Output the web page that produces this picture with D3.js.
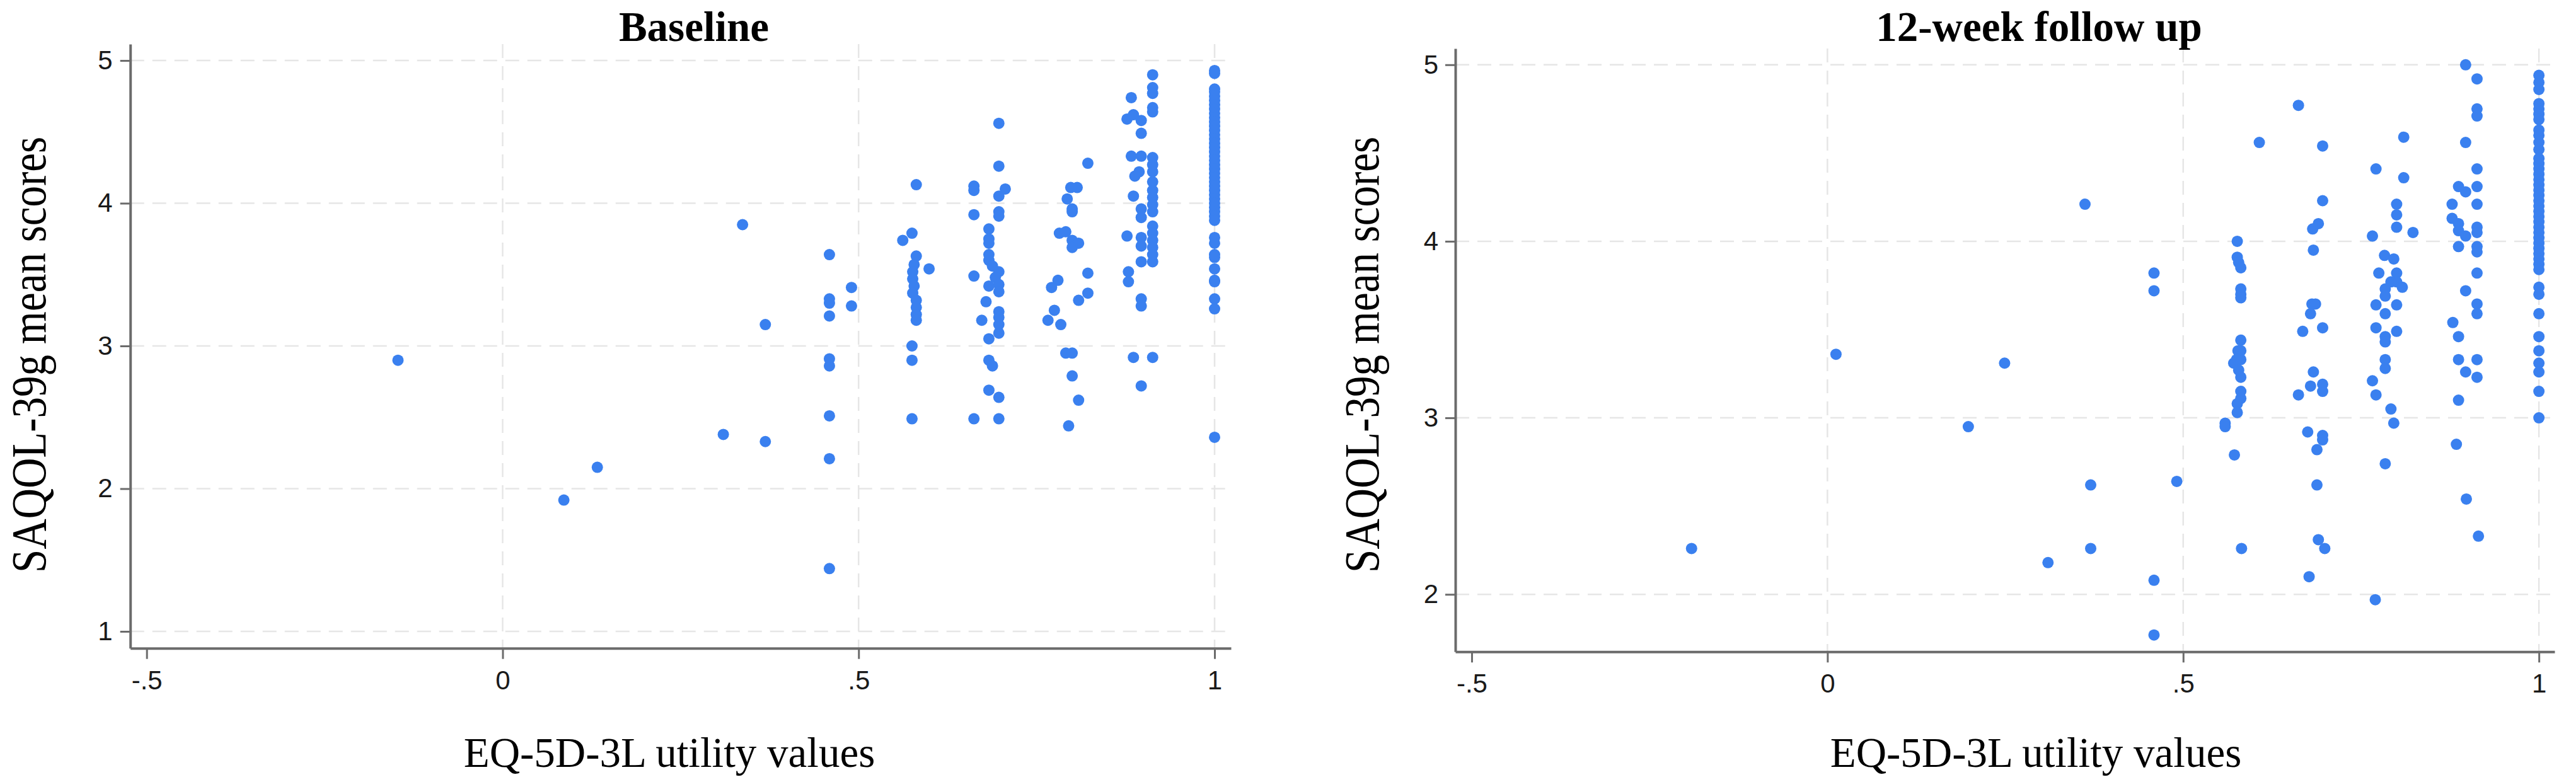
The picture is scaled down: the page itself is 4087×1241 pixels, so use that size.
<!DOCTYPE html>
<html>
<head>
<meta charset="utf-8">
<script src="https://cdn.jsdelivr.net/npm/d3@7"></script>
<style>
  html, body { margin: 0; padding: 0; background: #ffffff; }
  svg { display: block; }
</style>
</head>
<body>
<svg id="chart" width="4087" height="1241"></svg>
<script>
// ---------------- DATA ----------------
const panelTitles = ["Baseline", "12-week follow up"];
const xAxisTitle = "EQ-5D-3L utility values";
const yAxisTitle = "SAQOL-39g mean scores";

const xTickValues = [-0.5, 0, 0.5, 1];
const xTickLabels = ["-.5", "0", ".5", "1"];
const yTicksBaseline = [1, 2, 3, 4, 5];
const yTicksFollowup = [2, 3, 4, 5];

// [EQ-5D-3L utility, SAQOL-39g mean score]
const baselinePoints = [
  [-0.147, 2.90], [0.086, 1.92], [0.133, 2.15], [0.310, 2.38], [0.337, 3.85],
  [0.369, 3.15], [0.369, 2.33],
  [0.459, 3.64], [0.459, 3.33], [0.459, 3.30], [0.459, 3.21], [0.459, 2.91],
  [0.459, 2.86], [0.459, 2.51], [0.459, 2.21], [0.459, 1.44],
  [0.490, 3.41], [0.490, 3.28],
  [0.562, 3.74], [0.575, 3.79], [0.581, 4.13], [0.581, 3.63], [0.578, 3.57],
  [0.576, 3.52], [0.576, 3.47], [0.578, 3.42], [0.576, 3.37], [0.581, 3.32],
  [0.581, 3.27], [0.581, 3.22], [0.581, 3.18], [0.599, 3.54], [0.575, 3.00],
  [0.575, 2.90], [0.575, 2.49],
  [0.662, 4.12], [0.662, 4.09], [0.662, 3.92], [0.662, 3.49], [0.662, 2.49],
  [0.697, 4.56], [0.697, 4.26], [0.697, 4.05], [0.697, 3.94], [0.697, 3.91],
  [0.706, 4.10], [0.683, 3.82], [0.683, 3.75], [0.683, 3.72], [0.683, 3.64],
  [0.683, 3.60], [0.688, 3.56], [0.697, 3.52], [0.692, 3.48], [0.697, 3.43],
  [0.697, 3.38], [0.683, 3.42], [0.679, 3.31], [0.673, 3.18], [0.697, 3.24],
  [0.697, 3.20], [0.697, 3.15], [0.697, 3.09], [0.683, 3.05], [0.683, 2.90],
  [0.688, 2.86], [0.683, 2.69], [0.697, 2.64], [0.697, 2.49],
  [0.822, 4.28], [0.807, 4.11], [0.798, 4.11], [0.793, 4.03], [0.800, 3.96],
  [0.800, 3.94], [0.782, 3.79], [0.791, 3.80], [0.800, 3.74], [0.809, 3.72],
  [0.800, 3.69], [0.822, 3.51], [0.780, 3.46], [0.771, 3.41], [0.822, 3.37],
  [0.809, 3.32], [0.775, 3.25], [0.766, 3.18], [0.784, 3.15], [0.791, 2.95],
  [0.800, 2.95], [0.800, 2.79], [0.809, 2.62], [0.795, 2.44],
  [0.883, 4.74], [0.913, 4.90], [0.913, 4.81], [0.913, 4.77], [0.913, 4.67],
  [0.913, 4.64], [0.877, 4.59], [0.886, 4.62], [0.897, 4.58], [0.897, 4.49],
  [0.883, 4.33], [0.897, 4.33], [0.913, 4.32], [0.913, 4.27], [0.913, 4.22],
  [0.888, 4.19], [0.894, 4.22], [0.913, 4.15], [0.913, 4.09], [0.913, 4.04],
  [0.913, 3.99], [0.913, 3.94], [0.886, 4.05], [0.897, 3.96], [0.897, 3.90],
  [0.913, 3.84], [0.913, 3.79], [0.913, 3.74], [0.913, 3.69], [0.913, 3.64],
  [0.913, 3.59], [0.877, 3.77], [0.897, 3.76], [0.897, 3.70], [0.897, 3.59],
  [0.879, 3.52], [0.879, 3.45], [0.897, 3.33], [0.897, 3.28], [0.886, 2.92],
  [0.913, 2.92], [0.897, 2.72],
  [1, 4.93], [1, 4.91], [1, 4.80], [1, 4.78], [1, 4.75], [1, 4.72], [1, 4.69],
  [1, 4.66], [1, 4.63], [1, 4.60], [1, 4.57], [1, 4.54], [1, 4.51], [1, 4.48],
  [1, 4.45], [1, 4.42], [1, 4.39], [1, 4.36], [1, 4.33], [1, 4.30], [1, 4.27],
  [1, 4.24], [1, 4.21], [1, 4.18], [1, 4.15], [1, 4.12], [1, 4.09], [1, 4.06],
  [1, 4.03], [1, 4.00], [1, 3.97], [1, 3.94], [1, 3.91], [1, 3.88], [1, 3.76],
  [1, 3.72], [1, 3.64], [1, 3.62], [1, 3.54], [1, 3.46], [1, 3.45], [1, 3.33],
  [1, 3.26], [1, 2.36]
];

const followupPoints = [
  [-0.191, 2.26], [0.012, 3.36], [0.198, 2.95], [0.249, 3.31], [0.310, 2.18],
  [0.362, 4.21], [0.370, 2.62], [0.370, 2.26],
  [0.459, 3.82], [0.459, 3.72], [0.459, 2.08], [0.459, 1.77], [0.491, 2.64],
  [0.576, 4.00], [0.576, 3.91], [0.578, 3.88], [0.581, 3.85], [0.581, 3.73],
  [0.581, 3.70], [0.581, 3.68], [0.581, 3.44], [0.577, 3.38], [0.581, 3.38],
  [0.581, 3.33], [0.575, 3.33], [0.571, 3.31], [0.578, 3.27], [0.581, 3.23],
  [0.581, 3.15], [0.581, 3.11], [0.576, 3.08], [0.576, 3.03], [0.559, 2.97],
  [0.559, 2.95], [0.572, 2.79], [0.582, 2.26], [0.607, 4.56],
  [0.662, 4.77], [0.696, 4.54], [0.696, 4.23], [0.682, 4.07], [0.690, 4.10],
  [0.683, 3.95], [0.681, 3.645], [0.686, 3.645], [0.679, 3.59], [0.696, 3.51],
  [0.668, 3.49], [0.683, 3.26], [0.679, 3.18], [0.696, 3.19], [0.696, 3.15],
  [0.662, 3.13], [0.675, 2.92], [0.696, 2.90], [0.696, 2.875], [0.688, 2.82],
  [0.688, 2.62], [0.677, 2.10], [0.690, 2.31], [0.699, 2.26],
  [0.771, 4.41], [0.810, 4.59], [0.810, 4.36], [0.800, 4.21], [0.800, 4.15],
  [0.800, 4.08], [0.823, 4.05], [0.766, 4.03], [0.783, 3.92], [0.796, 3.90],
  [0.775, 3.82], [0.800, 3.82], [0.800, 3.77], [0.792, 3.77], [0.808, 3.74],
  [0.784, 3.73], [0.784, 3.69], [0.771, 3.64], [0.800, 3.64], [0.784, 3.59],
  [0.771, 3.51], [0.800, 3.49], [0.784, 3.46], [0.784, 3.43], [0.784, 3.33],
  [0.784, 3.28], [0.766, 3.21], [0.771, 3.13], [0.792, 3.05], [0.796, 2.97],
  [0.784, 2.74], [0.770, 1.97],
  [0.897, 5.00], [0.913, 4.92], [0.913, 4.75], [0.913, 4.71], [0.897, 4.56],
  [0.913, 4.41], [0.887, 4.31], [0.897, 4.28], [0.913, 4.31], [0.878, 4.21],
  [0.913, 4.21], [0.878, 4.13], [0.887, 4.10], [0.913, 4.08], [0.887, 4.06],
  [0.913, 4.05], [0.897, 4.03], [0.887, 3.97], [0.913, 3.97], [0.913, 3.94],
  [0.913, 3.82], [0.897, 3.72], [0.913, 3.645], [0.913, 3.59], [0.879, 3.54],
  [0.887, 3.46], [0.887, 3.33], [0.913, 3.33], [0.897, 3.26], [0.913, 3.23],
  [0.887, 3.10], [0.884, 2.85], [0.898, 2.54], [0.915, 2.33],
  [1, 4.94], [1, 4.90], [1, 4.86], [1, 4.78], [1, 4.75], [1, 4.72], [1, 4.69],
  [1, 4.63], [1, 4.60], [1, 4.56], [1, 4.52], [1, 4.47], [1, 4.44], [1, 4.41],
  [1, 4.38], [1, 4.35], [1, 4.32], [1, 4.29], [1, 4.26], [1, 4.23], [1, 4.20],
  [1, 4.17], [1, 4.14], [1, 4.11], [1, 4.08], [1, 4.05], [1, 4.02], [1, 3.99],
  [1, 3.96], [1, 3.93], [1, 3.90], [1, 3.87], [1, 3.84], [1, 3.74], [1, 3.70],
  [1, 3.59], [1, 3.46], [1, 3.38], [1, 3.31], [1, 3.26], [1, 3.15], [1, 3.00]
];

// ---------------- LAYOUT ----------------
const panels = [
  { title: panelTitles[0], points: baselinePoints, yTicks: yTicksBaseline,
    xDomain: [-0.523, 1.023], xRange: [206.7, 1953],
    yDomain: [0.882, 5.115], yRange: [1028.7, 70],
    titleX: 1101, xLabelX: 1062, yLabelX: 72, yTickPad: 12 },
  { title: panelTitles[1], points: followupPoints, yTicks: yTicksFollowup,
    xDomain: [-0.523, 1.022], xRange: [2309, 4053],
    yDomain: [1.675, 5.092], yRange: [1034.3, 77],
    titleX: 3235, xLabelX: 3230, yLabelX: 2187, yTickPad: 11 }
];

const axisColor = "#6b6b6b";
const gridColor = "#e6e6e6";
const dotColor = "#3a80ef";

const svg = d3.select("#chart");
svg.append("rect").attr("width", 4087).attr("height", 1241).attr("fill", "#ffffff");

const xFmt = d => xTickLabels[xTickValues.indexOf(d)];

panels.forEach(p => {
  const x = d3.scaleLinear().domain(p.xDomain).range(p.xRange);
  const y = d3.scaleLinear().domain(p.yDomain).range(p.yRange);
  const g = svg.append("g");

  // gridlines
  g.append("g").selectAll("line").data(p.yTicks).join("line")
    .attr("x1", p.xRange[0]).attr("x2", p.xRange[1])
    .attr("y1", d => y(d)).attr("y2", d => y(d))
    .attr("stroke", gridColor).attr("stroke-width", 2.5)
    .attr("stroke-dasharray", "22,13");
  g.append("g").selectAll("line").data(xTickValues.filter(v => v !== -0.5)).join("line")
    .attr("x1", d => x(d)).attr("x2", d => x(d))
    .attr("y1", p.yRange[1]).attr("y2", p.yRange[0])
    .attr("stroke", gridColor).attr("stroke-width", 2.5)
    .attr("stroke-dasharray", "22,13");

  // points
  g.append("g").selectAll("circle").data(p.points).join("circle")
    .attr("cx", d => x(d[0])).attr("cy", d => y(d[1]))
    .attr("r", 9).attr("fill", dotColor);

  // axes
  const xAxis = d3.axisBottom(x).tickValues(xTickValues).tickFormat(xFmt)
    .tickSize(17).tickSizeOuter(0).tickPadding(18);
  const gx = g.append("g").attr("transform", `translate(0,${p.yRange[0]})`).call(xAxis);
  const yAxis = d3.axisLeft(y).tickValues(p.yTicks).tickFormat(d3.format("d"))
    .tickSize(16).tickSizeOuter(0).tickPadding(p.yTickPad);
  const gy = g.append("g").attr("transform", `translate(${p.xRange[0]},0)`).call(yAxis);

  [gx, gy].forEach(ax => {
    ax.select(".domain").attr("stroke", axisColor).attr("stroke-width", 4);
    ax.selectAll(".tick line").attr("stroke", axisColor).attr("stroke-width", 3);
    ax.selectAll(".tick text")
      .attr("fill", "#1a1a1a")
      .style("font-family", "'Liberation Sans', Arial, sans-serif")
      .style("font-size", "42px");
  });

  // title
  g.append("text").attr("x", p.titleX).attr("y", 65)
    .attr("text-anchor", "middle")
    .style("font-family", "'Liberation Serif', 'Times New Roman', serif")
    .style("font-weight", "bold").style("font-size", "67px")
    .attr("fill", "#000").text(p.title);

  // x axis title
  g.append("text").attr("x", p.xLabelX).attr("y", 1217)
    .attr("text-anchor", "middle")
    .style("font-family", "'Liberation Serif', 'Times New Roman', serif")
    .style("font-size", "67px").attr("fill", "#000").text(xAxisTitle);

  // y axis title
  g.append("text")
    .attr("transform", `translate(${p.yLabelX},563) rotate(-90) scale(1,1.17)`)
    .attr("text-anchor", "middle")
    .style("font-family", "'Liberation Serif', 'Times New Roman', serif")
    .style("font-size", "67px").attr("fill", "#000").text(yAxisTitle);
});
</script>
</body>
</html>
